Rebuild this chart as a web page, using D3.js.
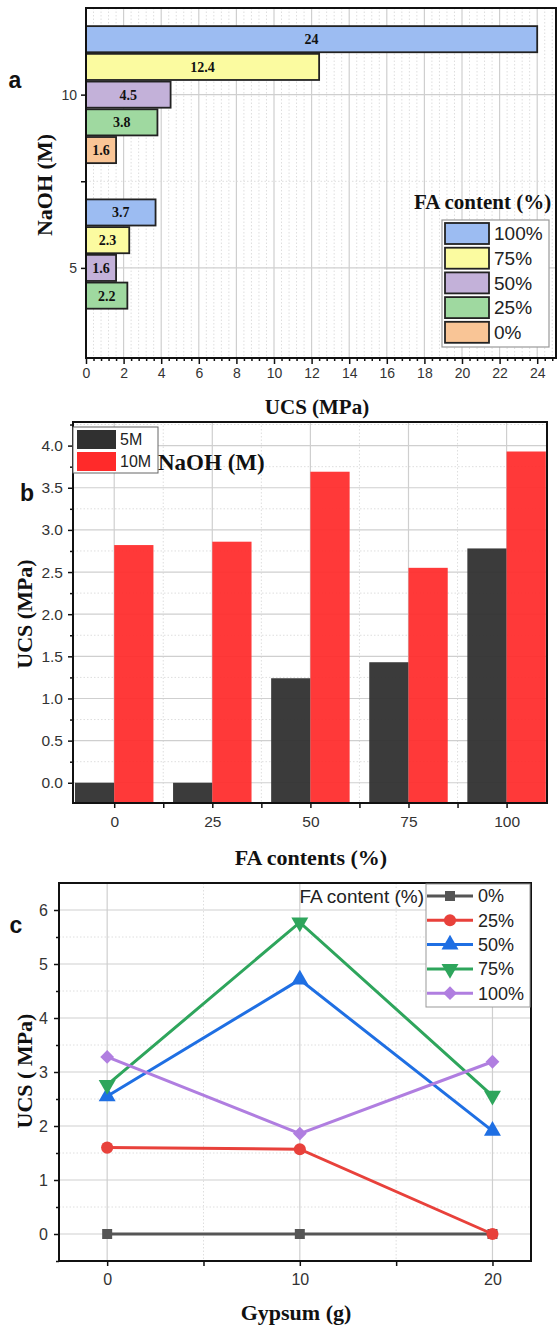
<!DOCTYPE html>
<meta charset="utf-8">
<style>

body { margin: 0; background: #fff; }
svg { display: block; }

.tick text {
  font-family: "Liberation Sans", Arial, sans-serif;
  fill: #333;
}
.tick line { stroke: #111; stroke-width: 1.5px; }

.ttl {
  font-family: "Liberation Serif", "Times New Roman", serif;
  font-weight: bold;
  fill: #111;
}
.panel {
  font-family: "Liberation Sans", Arial, sans-serif;
  font-weight: bold;
  font-size: 23px;
  fill: #111;
}
.leg {
  font-family: "Liberation Sans", Arial, sans-serif;
  fill: #222;
}
.grid { stroke: #cfcfcf; stroke-width: 1.2px; }
.minor { stroke: #dedede; stroke-width: 1px; stroke-dasharray: 1.5,2; }
.frame { fill: none; stroke: #111; stroke-width: 2px; }

</style>

<body>
<svg width="559" height="1330"></svg>
<script src="https://d3js.org/d3.v7.min.js"></script>

<script>

// ---- panel a : UCS by NaOH molarity
var naoh = [10, 5];
var faKeys = ["100%", "75%", "50%", "25%", "0%"];
var faColors = ["#9cbcf2", "#fbfba0", "#c3b1d9", "#9fd9a0", "#f9c596"];
var ucs10M = [24, 12.4, 4.5, 3.8, 1.6];
var ucs5M = [3.7, 2.3, 1.6, 2.2, 0];
var xTicksA = [0, 2, 4, 6, 8, 10, 12, 14, 16, 18, 20, 22, 24];

// ---- panel b : UCS by FA content
var faContents = [0, 25, 50, 75, 100];
var ucsB5M = [0, 0, 1.24, 1.43, 2.78];
var ucsB10M = [2.82, 2.86, 3.69, 2.55, 3.93];
var yTicksB = [0, 0.5, 1, 1.5, 2, 2.5, 3, 3.5, 4];

// ---- panel c : UCS by gypsum
var gypsum = [0, 10, 20];
var cKeys = ["0%", "25%", "50%", "75%", "100%"];
var c0 = [0, 0, 0];
var c25 = [1.6, 1.57, 0];
var c50 = [2.55, 4.71, 1.91];
var c75 = [2.76, 5.77, 2.56];
var c100 = [3.28, 1.86, 3.19];
var cColors = ["#555555", "#e8413b", "#1f6fe3", "#2ea55c", "#b07ee0"];
var yTicksC = [0, 1, 2, 3, 4, 5, 6];

var svg = d3.select("svg");

function vgrid(g, scale, vals, y0, y1, cls) {
  g.selectAll(null).data(vals).enter().append("line")
    .attr("class", cls)
    .attr("x1", d => scale(d)).attr("x2", d => scale(d))
    .attr("y1", y0).attr("y2", y1);
}
function hgrid(g, scale, vals, x0, x1, cls) {
  g.selectAll(null).data(vals).enter().append("line")
    .attr("class", cls)
    .attr("y1", d => scale(d)).attr("y2", d => scale(d))
    .attr("x1", x0).attr("x2", x1);
}
function clean(a) { a.select(".domain").remove(); return a; }

//////////////////////////////////////// panel a
var xA = d3.scaleLinear().domain([0, 25]).range([86, 556]);
var yA = d3.scaleLinear().domain([2.4, 12.5]).range([358, 8]);
var ga = svg.append("g");

var minorA = d3.range(0, 63).map(i => +(i * 0.4).toFixed(1)).filter(d => d < 25 && d % 2 != 0);
vgrid(ga, xA, minorA, 8, 358, "minor");
vgrid(ga, xA, xTicksA.slice(1), 8, 358, "grid");
hgrid(ga, yA, [7.5], 86, 556, "minor");
hgrid(ga, yA, naoh, 86, 556, "grid");

naoh.forEach(function(n, i) {
  var vals = i == 0 ? ucs10M : ucs5M;
  var band = d3.scaleBand().domain(faKeys).range([yA(n + 2), yA(n - 2)]);
  var rows = faKeys.map((k, j) => ({k: k, v: vals[j], c: faColors[j]}));
  ga.selectAll(null).data(rows).enter().append("rect")
    .attr("x", xA(0))
    .attr("y", d => band(d.k) + 0.8)
    .attr("width", d => xA(d.v) - xA(0))
    .attr("height", band.bandwidth() - 1.6)
    .attr("fill", d => d.c)
    .attr("stroke", "#222")
    .attr("stroke-width", 1.8);
  ga.selectAll(null).data(rows.filter(d => d.v > 0)).enter().append("text")
    .attr("class", "ttl")
    .attr("x", d => xA(d.v / 2))
    .attr("y", d => band(d.k) + band.bandwidth() / 2)
    .attr("dy", "0.36em")
    .attr("text-anchor", "middle")
    .style("font-size", "14px")
    .text(d => d.v);
});

clean(ga.append("g").attr("transform", "translate(0,358)")
  .call(d3.axisBottom(xA).tickValues(minorA).tickSize(3).tickFormat("")));
clean(ga.append("g").attr("transform", "translate(0,358)")
  .call(d3.axisBottom(xA).tickValues(xTicksA).tickSize(6).tickPadding(4)))
  .selectAll("text").style("font-size", "14px");
clean(ga.append("g").attr("transform", "translate(86,0)")
  .call(d3.axisLeft(yA).tickValues([5, 7.5, 10]).tickSize(5).tickPadding(4)
    .tickFormat(d => d == 7.5 ? "" : d)))
  .selectAll("text").style("font-size", "14px");
ga.append("rect").attr("class", "frame")
  .attr("x", 86).attr("y", 8).attr("width", 470).attr("height", 350);

// legend a
ga.append("text").attr("class", "ttl").attr("x", 414).attr("y", 209)
  .style("font-size", "21px").text("FA content (%)");
ga.append("rect").attr("x", 442).attr("y", 220).attr("width", 107).attr("height", 127)
  .attr("fill", "#fff").attr("stroke", "#999").attr("stroke-width", 1.2);
var legA = ga.selectAll(null).data(faKeys).enter().append("g")
  .attr("transform", (d, i) => "translate(445," + (223 + i * 24.7) + ")");
legA.append("rect").attr("width", 44).attr("height", 21)
  .attr("fill", (d, i) => faColors[i]).attr("stroke", "#222").attr("stroke-width", 1.8);
legA.append("text").attr("class", "leg").attr("x", 49).attr("y", 10.5).attr("dy", "0.36em")
  .style("font-size", "19px").text(d => d);

svg.append("text").attr("class", "panel").attr("x", 15).attr("y", 88).attr("text-anchor", "middle").text("a");
svg.append("text").attr("class", "ttl").attr("transform", "translate(52,185) rotate(-90)")
  .attr("text-anchor", "middle").style("font-size", "22px").text("NaOH (M)");
svg.append("text").attr("class", "ttl").attr("x", 317).attr("y", 414)
  .attr("text-anchor", "middle").style("font-size", "21px").text("UCS (MPa)");

//////////////////////////////////////// panel b
var xB = d3.scaleLinear().domain([-10.5, 110.3]).range([73, 547]);
var yB = d3.scaleLinear().domain([-0.24, 4.28]).range([803, 422]);
var gb = svg.append("g");

hgrid(gb, yB, yTicksB.map(d => d + 0.25), 73, 547, "minor");
vgrid(gb, xB, [12.5, 37.5, 62.5, 87.5], 422, 803, "minor");
hgrid(gb, yB, yTicksB, 73, 547, "grid");
vgrid(gb, xB, faContents, 422, 803, "grid");

var rowsB = faContents.map((c, i) => ({c: c, a: ucsB5M[i], b: ucsB10M[i]}));
gb.selectAll(null).data(rowsB).enter().append("rect")
  .attr("x", d => xB(d.c - 10)).attr("width", d => xB(d.c) - xB(d.c - 10))
  .attr("y", d => yB(d.a)).attr("height", d => yB.range()[0] - yB(d.a))
  .attr("fill", "#303030").attr("fill-opacity", 0.95);
gb.selectAll(null).data(rowsB).enter().append("rect")
  .attr("x", d => xB(d.c)).attr("width", d => xB(d.c + 10) - xB(d.c))
  .attr("y", d => yB(d.b)).attr("height", d => yB.range()[0] - yB(d.b))
  .attr("fill", "#ff2a2a").attr("fill-opacity", 0.93);

clean(gb.append("g").attr("transform", "translate(73,0)")
  .call(d3.axisLeft(yB).tickValues(yTicksB.map(d => d + 0.25)).tickSize(3).tickFormat("")));
clean(gb.append("g").attr("transform", "translate(73,0)")
  .call(d3.axisLeft(yB).tickValues(yTicksB).tickSize(5).tickPadding(5).tickFormat(d3.format(".1f"))))
  .selectAll("text").style("font-size", "15.5px");
clean(gb.append("g").attr("transform", "translate(0,803)")
  .call(d3.axisBottom(xB).tickValues([12.5, 37.5, 62.5, 87.5]).tickSize(5).tickFormat("")));
clean(gb.append("g").attr("transform", "translate(0,803)")
  .call(d3.axisBottom(xB).tickValues(faContents).tickSize(5).tickPadding(8)))
  .selectAll("text").style("font-size", "15.5px");
gb.append("rect").attr("class", "frame")
  .attr("x", 73).attr("y", 422).attr("width", 474).attr("height", 381);

// legend b
gb.append("rect").attr("x", 73).attr("y", 427).attr("width", 85).attr("height", 46)
  .attr("fill", "#fff").attr("stroke", "#666").attr("stroke-width", 1);
var legB = gb.selectAll(null).data([["5M", "#303030"], ["10M", "#ff2a2a"]]).enter().append("g")
  .attr("transform", (d, i) => "translate(77," + (430 + i * 22) + ")");
legB.append("rect").attr("width", 39).attr("height", 19).attr("fill", d => d[1]);
legB.append("text").attr("class", "leg").attr("x", 43).attr("y", 9.5).attr("dy", "0.36em")
  .style("font-size", "16px").text(d => d[0]);
gb.append("text").attr("class", "ttl").attr("x", 158).attr("y", 470)
  .style("font-size", "23px").text("NaOH (M)");

svg.append("text").attr("class", "panel").attr("x", 27).attr("y", 501).attr("text-anchor", "middle").text("b");
svg.append("text").attr("class", "ttl").attr("transform", "translate(32,614) rotate(-90)")
  .attr("text-anchor", "middle").style("font-size", "22px").text("UCS (MPa)");
svg.append("text").attr("class", "ttl").attr("x", 311).attr("y", 865)
  .attr("text-anchor", "middle").style("font-size", "22px").text("FA contents (%)");

//////////////////////////////////////// panel c
var xC = d3.scaleLinear().domain([-2.5, 22]).range([59, 531]);
var yC = d3.scaleLinear().domain([-0.5, 6.5]).range([1261, 883]);
var gc = svg.append("g");

hgrid(gc, yC, yTicksC.map(d => d + 0.5), 59, 531, "minor");
vgrid(gc, xC, [5, 15], 883, 1261, "minor");
hgrid(gc, yC, yTicksC, 59, 531, "grid");
vgrid(gc, xC, gypsum, 883, 1261, "grid");

clean(gc.append("g").attr("transform", "translate(59,0)")
  .call(d3.axisLeft(yC).tickValues(yTicksC.map(d => d - 0.5)).tickSize(3).tickFormat("")));
clean(gc.append("g").attr("transform", "translate(59,0)")
  .call(d3.axisLeft(yC).tickValues(yTicksC).tickSize(5).tickPadding(6).tickFormat(d3.format("d"))))
  .selectAll("text").style("font-size", "16px");
clean(gc.append("g").attr("transform", "translate(0,1261)")
  .call(d3.axisBottom(xC).tickValues([5, 15]).tickSize(5).tickFormat("")));
clean(gc.append("g").attr("transform", "translate(0,1261)")
  .call(d3.axisBottom(xC).tickValues(gypsum).tickSize(5).tickPadding(8).tickFormat(d3.format("d"))))
  .selectAll("text").style("font-size", "16px");

var triDown = {
  draw: function(ctx, size) {
    var y = -Math.sqrt(size / (Math.sqrt(3) * 3));
    ctx.moveTo(0, -y * 2);
    ctx.lineTo(Math.sqrt(3) * y, y);
    ctx.lineTo(-Math.sqrt(3) * y, y);
    ctx.closePath();
  }
};
var cSymbols = [d3.symbolSquare, d3.symbolCircle, d3.symbolTriangle, triDown, d3.symbolSquare];
var cRot = [0, 0, 0, 0, 45];
var cSize = [100, 115, 125, 125, 95];
var cSeries = [c0, c25, c50, c75, c100];

var line = d3.line().x(d => xC(d.x)).y(d => yC(d.y));
cSeries.forEach(function(s, i) {
  var pts = gypsum.map((g, j) => ({x: g, y: s[j]}));
  gc.append("path").datum(pts).attr("d", line)
    .attr("fill", "none").attr("stroke", cColors[i]).attr("stroke-width", 3);
  gc.selectAll(null).data(pts).enter().append("path")
    .attr("d", d3.symbol().type(cSymbols[i]).size(cSize[i]))
    .attr("transform", d => "translate(" + xC(d.x) + "," + yC(d.y) + ") rotate(" + cRot[i] + ")")
    .attr("fill", cColors[i]);
});
gc.append("rect").attr("class", "frame")
  .attr("x", 59).attr("y", 883).attr("width", 472).attr("height", 378);

// legend c
gc.append("text").attr("class", "leg").attr("x", 424).attr("y", 896).attr("dy", "0.36em")
  .attr("text-anchor", "end").style("font-size", "19px").text("FA content (%)");
gc.append("rect").attr("x", 426).attr("y", 884).attr("width", 104).attr("height", 123)
  .attr("fill", "#fff").attr("stroke", "#999").attr("stroke-width", 1);
var legC = gc.selectAll(null).data(cKeys).enter().append("g")
  .attr("transform", (d, i) => "translate(427," + (896 + i * 24.3) + ")");
legC.append("line").attr("x1", 0).attr("x2", 46)
  .attr("stroke", (d, i) => cColors[i]).attr("stroke-width", 3);
legC.append("path")
  .attr("d", (d, i) => d3.symbol().type(cSymbols[i]).size(cSize[i])())
  .attr("transform", (d, i) => "translate(23,0) rotate(" + cRot[i] + ")")
  .attr("fill", (d, i) => cColors[i]);
legC.append("text").attr("class", "leg").attr("x", 51).attr("dy", "0.36em")
  .style("font-size", "18px").text(d => d);

svg.append("text").attr("class", "panel").attr("x", 16).attr("y", 933).attr("text-anchor", "middle").text("c");
svg.append("text").attr("class", "ttl").attr("transform", "translate(32,1071) rotate(-90)")
  .attr("text-anchor", "middle").style("font-size", "22px").text("UCS ( MPa)");
svg.append("text").attr("class", "ttl").attr("x", 296).attr("y", 1320)
  .attr("text-anchor", "middle").style("font-size", "22px").text("Gypsum (g)");

</script>
</body>
